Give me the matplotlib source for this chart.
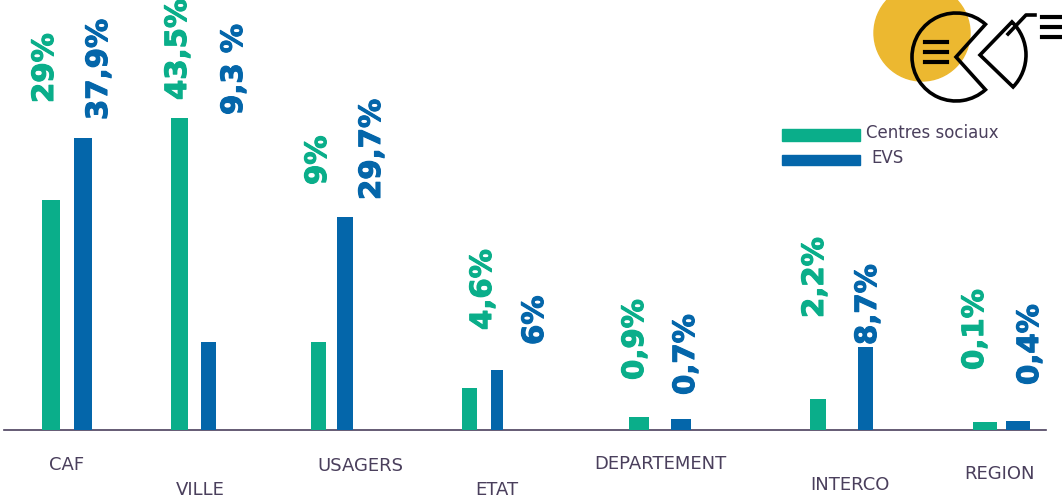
import numpy as np
import matplotlib
matplotlib.use("Agg")
import matplotlib.pyplot as plt
import matplotlib.patheffects as pe
from matplotlib.patches import Rectangle, Circle, Wedge

# ---------------------------
# Data
# ---------------------------
categories = ["CAF", "VILLE", "USAGERS", "ETAT", "DEPARTEMENT", "INTERCO", "REGION"]
cs_labels = ["29%", "43,5%", "9%", "4,6%", "0,9%", "2,2%", "0,1%"]
evs_labels = ["37,9%", "9,3 %", "29,7%", "6%", "0,7%", "8,7%", "0,4%"]
# bar heights as drawn in the source (not proportional to the labels)
cs_heights = [230, 312, 88, 42, 13, 31, 8]
evs_heights = [292, 88, 213, 60, 11, 83, 9]

# ---------------------------
# Layout (pixel-like axis units, baseline at y=0)
# ---------------------------
GREEN = "#0aae8a"
BLUE = "#0466aa"
TXT = "#4a3f5c"

cs_x = [51, 179.5, 318.5, 469.5, 639, 818, 985]
cs_w = [18, 17, 15, 15, 20, 16, 24]
evs_x = [83, 208.5, 345, 497, 681, 865.5, 1018]
evs_w = [18, 15, 16, 12, 20, 15, 24]

cs_lab_x = [45, 178, 318, 483, 635, 815, 975]
cs_lab_y = [327, 330, 245, 100, 50, 112, 60]
evs_lab_x = [99, 234, 372, 535, 686, 868, 1030]
evs_lab_y = [310, 315, 230, 85, 35, 85, 45]

cat_x = [67, 200, 360, 497, 660, 850, 1000]
cat_y = [-35, -60, -36, -60, -34, -55, -44]

fig = plt.figure(figsize=(10.62, 5.0), dpi=100)
ax = fig.add_axes([0, 0, 1, 1])
ax.set_xlim(0, 1062)
ax.set_ylim(-70, 430)
ax.axis("off")

# baseline
ax.plot([4, 1046], [0, 0], color=TXT, lw=1.2, zorder=1)

ax.bar(cs_x, cs_heights, width=cs_w, color=GREEN, zorder=2)
ax.bar(evs_x, evs_heights, width=evs_w, color=BLUE, zorder=2)

for labels, xs, ys, col in [(cs_labels, cs_lab_x, cs_lab_y, GREEN),
                            (evs_labels, evs_lab_x, evs_lab_y, BLUE)]:
    for x, y, s in zip(xs, ys, labels):
        ax.text(x, y, s, rotation=90, ha="center", va="bottom", color=col,
                fontsize=21, fontweight="bold", family="DejaVu Sans",
                path_effects=[pe.withStroke(linewidth=0.8, foreground=col)])

for x, y, s in zip(cat_x, cat_y, categories):
    ax.text(x, y, s, ha="center", va="center", color=TXT, fontsize=13)

# legend
ax.add_patch(Rectangle((782, 289), 78, 12, color=GREEN))
ax.add_patch(Rectangle((782, 265), 78, 10, color=BLUE))
ax.text(866, 297, "Centres sociaux", ha="left", va="center", color=TXT, fontsize=12)
ax.text(871, 272, "EVS", ha="left", va="center", color=TXT, fontsize=12)

# logo (top right)
ax.add_patch(Circle((922, 397), 48, color="#ecb830", zorder=3))
lw = 2.6
ax.add_patch(Wedge((956, 373), 44, 48, 312, fill=False, ec="black", lw=lw, zorder=4))
ax.add_patch(Wedge((980, 375), 46, -44, 46, fill=False, ec="black", lw=lw, zorder=4))
ax.plot([1008, 1026, 1035], [396, 415, 415], color="black", lw=lw, zorder=4)
for yy in [413, 403, 393]:
    ax.plot([1042, 1060], [yy, yy], color="black", lw=3, zorder=4)
for yy in [388, 378, 368]:
    ax.plot([925, 947], [yy, yy], color="black", lw=3, zorder=4)

fig.savefig("out.png", dpi=100)
